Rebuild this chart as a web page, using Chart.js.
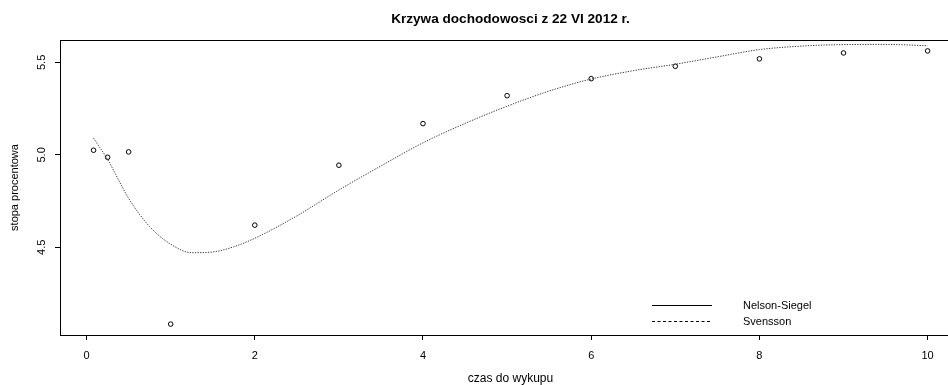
<!DOCTYPE html>
<html>
<head>
<meta charset="utf-8">
<script src="https://cdn.jsdelivr.net/npm/chart.js@4.4.0/dist/chart.umd.min.js"></script>
<style>
  html, body { margin: 0; padding: 0; background: #fff; overflow: hidden; }
  #wrap { width: 948px; height: 385px; overflow: hidden; }
</style>
</head>
<body>
<div id="wrap"><canvas id="yieldChart" width="966" height="385"></canvas></div>
<script>
const chartTitle = "Krzywa dochodowosci z 22 VI 2012 r.";
const xLabel = "czas do wykupu";
const yLabel = "stopa procentowa";
const xTicks = [0, 2, 4, 6, 8, 10];
const yTicks = [4.5, 5.0, 5.5];

// observed yields (points)
const maturities = [0.083, 0.25, 0.5, 1, 2, 3, 4, 5, 6, 7, 8, 9, 10];
const observedYields = [5.025, 4.987, 5.016, 4.085, 4.62, 4.944, 5.169, 5.32, 5.412, 5.479, 5.519, 5.551, 5.562];

// fitted Svensson curve
const curveTimes = [0.083, 0.25, 0.5, 0.75, 1, 1.25, 1.5, 1.75, 2, 2.5, 3, 3.5, 4, 4.5, 5, 5.5, 6, 6.5, 7, 7.5, 8, 8.5, 9, 9.5, 10];
const svenssonYields = [5.09, 4.975, 4.765, 4.612, 4.517, 4.471, 4.475, 4.503, 4.549, 4.67, 4.81, 4.94, 5.065, 5.17, 5.263, 5.345, 5.41, 5.455, 5.49, 5.53, 5.569, 5.588, 5.596, 5.597, 5.59];

const legendLabels = ["Nelson-Siegel", "Svensson"];
const legendDashes = [[], [3, 2.5]];

const FONT = "'Liberation Sans', Arial, sans-serif";

// legend like R's legend(), drawn inside the plot box
const legendPlugin = {
  id: "rLegend",
  afterDraw(chart) {
    const { ctx, chartArea } = chart;
    const x0 = chartArea.left + 592;
    const x1 = x0 + 60;
    const tx = x1 + 31;
    legendLabels.forEach((label, i) => {
      const y = chartArea.bottom - 30 + i * 15.5;
      ctx.save();
      ctx.strokeStyle = "#000";
      ctx.lineWidth = 1;
      ctx.setLineDash(legendDashes[i]);
      ctx.beginPath();
      ctx.moveTo(x0, Math.round(y) + 0.5);
      ctx.lineTo(x1, Math.round(y) + 0.5);
      ctx.stroke();
      ctx.setLineDash([]);
      ctx.fillStyle = "#000";
      ctx.font = "11px " + FONT;
      ctx.textBaseline = "middle";
      ctx.fillText(label, tx, y + 1);
      ctx.restore();
    });
  },
};

const pointData = maturities.map((t, i) => ({ x: t, y: observedYields[i] }));
const curveData = curveTimes.map((t, i) => ({ x: t, y: svenssonYields[i] }));

const xMin = -0.316;
const xMax = 10.397;

new Chart(document.getElementById("yieldChart"), {
  type: "scatter",
  data: {
    datasets: [
      {
        label: legendLabels[1],
        data: curveData,
        showLine: true,
        borderColor: "#3a3a3a",
        borderWidth: 1,
        borderDash: [1.3, 1.3],
        pointRadius: 0,
        cubicInterpolationMode: "monotone",
        fill: false,
      },
      {
        label: "dane",
        data: pointData,
        showLine: false,
        pointStyle: "circle",
        pointRadius: 2.3,
        pointBorderWidth: 1,
        pointBorderColor: "#000",
        pointBackgroundColor: "rgba(0,0,0,0)",
      },
    ],
  },
  options: {
    responsive: false,
    animation: false,
    layout: { padding: 0 },
    plugins: {
      legend: { display: false },
      tooltip: { enabled: false },
    },
    scales: {
      x: {
        type: "linear",
        position: "bottom",
        min: xMin,
        max: xMax,
        afterBuildTicks: (scale) => {
          scale.ticks = xTicks.map((v) => ({ value: v }));
        },
        afterFit: (scale) => {
          scale.height = 50;
        },
        grid: { drawOnChartArea: false, drawTicks: true, tickLength: 5, tickColor: "#000" },
        border: { display: true, color: "#000", width: 1 },
        ticks: {
          color: "#000",
          font: { family: FONT, size: 11 },
          padding: 9,
          maxRotation: 0,
          callback: (v) => String(v),
        },
        title: {
          display: true,
          text: xLabel,
          color: "#000",
          font: { family: FONT, size: 12, lineHeight: 1 },
          padding: { top: 0, bottom: 0 },
        },
      },
      top: {
        type: "linear",
        position: "top",
        min: xMin,
        max: xMax,
        afterFit: (scale) => {
          scale.height = 40;
        },
        grid: { display: false },
        border: { display: true, color: "#000", width: 1 },
        ticks: { display: false },
        title: {
          display: true,
          text: chartTitle,
          color: "#000",
          font: { family: FONT, size: 13.6, weight: "bold", lineHeight: 1 },
          padding: { top: 12, bottom: 0 },
        },
      },
      y: {
        type: "linear",
        position: "left",
        min: 4.026,
        max: 5.621,
        afterBuildTicks: (scale) => {
          scale.ticks = yTicks.map((v) => ({ value: v }));
        },
        afterFit: (scale) => {
          scale.width = 60;
        },
        grid: { drawOnChartArea: false, drawTicks: true, tickLength: 5, tickColor: "#000" },
        border: { display: true, color: "#000", width: 1 },
        ticks: {
          color: "#000",
          font: { family: FONT, size: 11 },
          padding: 5,
          minRotation: 90,
          maxRotation: 90,
          crossAlign: "center",
          callback: (v) => Number(v).toFixed(1),
        },
        title: {
          display: true,
          text: yLabel,
          color: "#000",
          font: { family: FONT, size: 11, lineHeight: 1 },
          padding: { top: 9.5, bottom: 0 },
        },
      },
    },
  },
  plugins: [legendPlugin],
});
</script>
</body>
</html>
